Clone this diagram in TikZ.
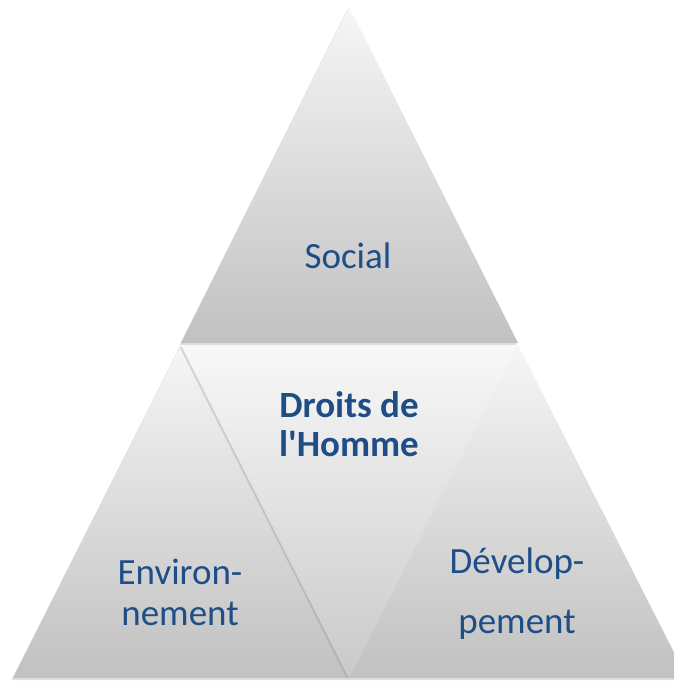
\documentclass[tikz,border=0pt]{standalone}
\usepackage{fontspec}
\newfontfamily\carlito{Carlito}
\usetikzlibrary{shadows}
\definecolor{txtblue}{HTML}{1F4E87}
\definecolor{shtop}{HTML}{F6F6F6}
\definecolor{shbot}{HTML}{C1C1C1}
\definecolor{midtop}{HTML}{F8F8F8}
\definecolor{midbot}{HTML}{C9C9C9}
\begin{document}
\begin{tikzpicture}[x=1pt,y=-1pt,
  tri/.style={drop shadow={shadow xshift=-1.5pt,shadow yshift=-2pt,opacity=0.25,fill=gray},
              top color=shtop,bottom color=shbot,draw=none},
  midtri/.style={drop shadow={shadow xshift=-1.5pt,shadow yshift=-2pt,opacity=0.25,fill=gray},
              top color=midtop,bottom color=midbot,draw=none},
  lbl/.style={font=\carlito\fontsize{37}{41}\selectfont,text=txtblue,anchor=base,inner sep=0pt},
  blbl/.style={lbl,font=\carlito\bfseries\fontsize{37}{41}\selectfont}]
\useasboundingbox (0,0) rectangle (674,681);
\clip (0,0) rectangle (674,681);
% coordinates
\coordinate (tA) at (349,7);
\coordinate (tL) at (181,343);
\coordinate (tR) at (518,343);
\coordinate (mL) at (181,345);
\coordinate (mR) at (518,345);
\coordinate (mB) at (349,678);
\coordinate (lB) at (13,678);
\coordinate (rB) at (687,678);
% triangles
\path[tri] (tA) -- (tR) -- (tL) -- cycle;
\path[tri] (mL) -- (mB) -- (lB) -- cycle;
\path[tri] (mR) -- (rB) -- (mB) -- cycle;
\path[midtri] (mL) -- (mR) -- (mB) -- cycle;
% labels
\node[lbl] (social) at (348,268) {Social};
\node[blbl] (droitsA) at (349,417) {Droits de};
\node[blbl] (droitsB) at (349,456) {l'Homme};
\node[lbl] (envA) at (180,584) {Environ-};
\node[lbl] (envB) at (180,625) {nement};
\node[lbl] (devA) at (517,573) {Dévelop-};
\node[lbl] (devB) at (517,633) {pement};
\end{tikzpicture}
\end{document}
